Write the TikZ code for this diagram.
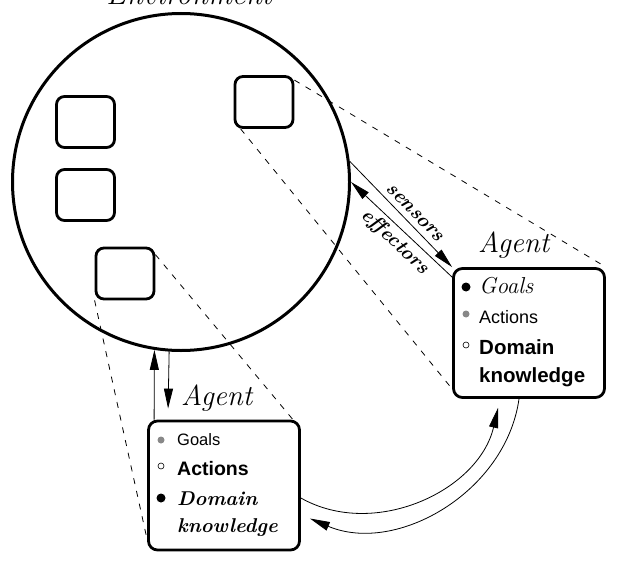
\documentclass[tikz,border=0pt]{standalone}
\usepackage{fontspec}
\usepackage{tikz}
\usepackage{xcolor}
\usetikzlibrary{arrows.meta,positioning}
\newfontfamily\helv{Liberation Sans}
\definecolor{AgentGray}{HTML}{888888}
\tikzset{
  env/.style={circle, draw, line width=3pt, minimum size=337pt, inner sep=0pt},
  thing/.style={draw, line width=2.8pt, rounded corners=8pt, minimum width=58pt, minimum height=51pt, inner sep=0pt},
  agentbox/.style={draw, line width=2.8pt, rounded corners=9pt, minimum width=151pt, minimum height=129pt, inner sep=0pt},
  cone/.style={line width=0.8pt, dash pattern=on 6pt off 7pt},
  arr/.style={line width=0.8pt, -{Triangle[length=20pt,width=9pt]}},
  dotblack/.style={circle, fill=black, minimum size=9pt, inner sep=0pt},
  dotgray/.style={circle, fill=AgentGray, minimum size=7pt, inner sep=0pt},
  dotwhite/.style={circle, draw, fill=white, line width=0.6pt, minimum size=6pt, inner sep=0pt},
  item/.style={anchor=base west, inner sep=0pt},
  lbl/.style={font=\bfseries\itshape\fontsize{20}{22}\selectfont, inner sep=2pt},
}

\begin{document}
\begin{tikzpicture}[x=1pt, y=1pt]
  \useasboundingbox (0,0) rectangle (617,-564);
  \clip (0,0) rectangle (617,-564);

  % Environment
  \node[env] (env) at (181,-182) {};
  \node[anchor=base, font=\itshape\fontsize{30}{32}\selectfont] (envlabel) at (189,-5) {Environment};

  % Objects in the environment
  \foreach \n/\x/\y in {b1/85.5/122, b2/85.5/195, b3/125/273.5, b4/264/102}
    \node[thing] (\n) at (\x,-\y) {};

  % Agents
  \node[agentbox] (agentE) at (529,-333) {};
  \node[agentbox] (agentS) at (224,-485.5) {};
  \node[item, font=\itshape\fontsize{29}{30}\selectfont] (agentElabel) at (478,-252) {Agent};
  \node[item, font=\itshape\fontsize{29}{30}\selectfont] (agentSlabel) at (181,-405) {Agent};

  % Right agent: Goals, Actions, Domain knowledge
  \node[dotblack] (eGoalsDot) at (466,-287) {};
  \node[item, font=\itshape\fontsize{23}{24}\selectfont] (eGoals) at (479,-293) {Goals};
  \node[dotgray] (eActDot) at (466,-314) {};
  \node[item, font=\helv\fontsize{18}{20}\selectfont] (eAct) at (479,-323) {Actions};
  \node[dotwhite] (eDomDot) at (466,-345) {};
  \node[item, font=\helv\bfseries\fontsize{20.5}{22}\selectfont] (eDom) at (479,-354) {Domain};
  \node[item, font=\helv\bfseries\fontsize{20.5}{22}\selectfont] (eKnow) at (479,-382) {knowledge};

  % Bottom agent: Goals, Actions, Domain knowledge
  \node[dotgray] (sGoalsDot) at (161,-440) {};
  \node[item, font=\helv\fontsize{16.5}{18}\selectfont] (sGoals) at (177,-445) {Goals};
  \node[dotwhite] (sActDot) at (161,-466) {};
  \node[item, font=\helv\bfseries\fontsize{19.5}{21}\selectfont] (sAct) at (177,-475) {Actions};
  \node[dotblack] (sDomDot) at (161,-498) {};
  \node[item, font=\bfseries\itshape\fontsize{20}{22}\selectfont] (sDom) at (177,-505) {Domain};
  \node[item, font=\bfseries\itshape\fontsize{20}{22}\selectfont] (sKnow) at (177,-532) {knowledge};

  % Zoom lines from the objects to their agents
  \draw[cone] ([yshift=-5pt]b4.north east) -- (agentE.north east);
  \draw[cone] ([xshift=7pt]b4.south west) -- ([yshift=10pt]agentE.south west);
  \draw[cone] ([yshift=-8pt]b3.north east) -- ([xshift=-8pt]agentS.north east);
  \draw[cone] (b3.south west) -- ([yshift=12pt]agentS.south west);

  % Sensors and effectors
  \draw[arr] (env.7) -- (agentE.north west)
    node[pos=0.56, sloped, above=4pt, lbl] (sensorslabel) {sensors};
  \draw[arr] ([yshift=-10pt]agentE.north west) -- (env.0)
    node[pos=0.47, sloped, below=2pt, lbl] (effectorslabel) {effectors};
  \draw[arr] ([xshift=7pt]agentS.north west) -- (env.-99);
  \draw[arr] (env.-94.4) -- ([xshift=21pt,yshift=11pt]agentS.north west);

  % Exchange between the agents
  \draw[arr] ([yshift=-12.5pt]agentS.east) to[out=-29.5, in=-103] ([xshift=-31pt,yshift=-9pt]agentE.south);
  \draw[arr] ([xshift=-10pt]agentE.south) to[out=-98, in=-23] ([xshift=9pt,yshift=-33pt]agentS.east);
\end{tikzpicture}
\end{document}
